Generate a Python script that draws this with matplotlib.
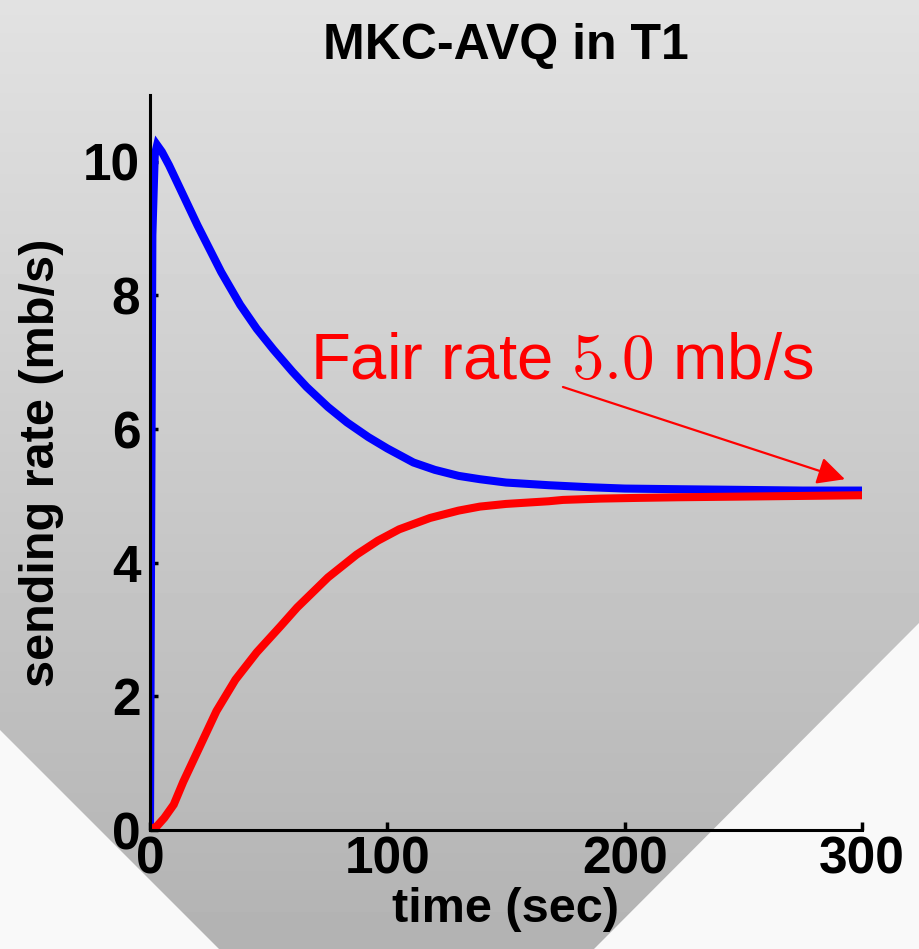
import numpy as np
import matplotlib
matplotlib.use("Agg")
import matplotlib.pyplot as plt
from matplotlib.patches import Polygon

plt.rcParams['font.family'] = ['Liberation Sans', 'DejaVu Sans']
plt.rcParams['mathtext.fontset'] = 'cm'

## Data
t_blue = [0, 0.5, 1, 2, 3, 5, 8, 12, 16, 20, 25, 30, 38, 45, 52, 60, 66, 75, 83, 92,
          100, 111, 120, 130, 139, 150, 168, 185, 200, 223, 250, 275, 300]
rate_blue = [0, 4.6, 8.9, 10.1, 10.25, 10.15, 9.95, 9.65, 9.35, 9.05, 8.7, 8.35, 7.86, 7.5, 7.19, 6.86,
             6.63, 6.33, 6.1, 5.88, 5.71, 5.5, 5.39, 5.3, 5.25, 5.2, 5.16, 5.13, 5.11, 5.1, 5.09, 5.08, 5.08]

t_red = [0, 3, 6, 10, 14, 21, 28, 36, 45, 55, 62, 75, 87, 96, 105, 118, 130, 139, 150, 168,
         174, 190, 205, 223, 250, 275, 300]
rate_red = [0, 0.06, 0.18, 0.38, 0.72, 1.25, 1.78, 2.25, 2.66, 3.05, 3.33, 3.78, 4.12, 4.33, 4.5, 4.67,
            4.78, 4.84, 4.88, 4.92, 4.94, 4.96, 4.97, 4.98, 4.99, 5.0, 5.01]

x_ticks = [0, 100, 200, 300]
y_ticks = [0, 2, 4, 6, 8, 10]

fig = plt.figure(figsize=(9.2, 9.49), dpi=100)

# gray gradient background with white corners
bg = fig.add_axes([0, 0, 1, 1], zorder=-10)
grad = np.linspace(0.885, 0.70, 256).reshape(-1, 1)
bg.imshow(grad, cmap='gray', vmin=0, vmax=1, aspect='auto', extent=[0, 920, 949, 0])
bg.add_patch(Polygon([[0, 730], [0, 949], [219, 949]], closed=True, color='#f9f9f9', lw=0))
bg.add_patch(Polygon([[920, 622], [920, 949], [594, 949]], closed=True, color='#f9f9f9', lw=0))
bg.set_xlim(0, 920)
bg.set_ylim(949, 0)
bg.axis('off')

ax = fig.add_axes([150 / 920, 1 - 830 / 949, 712 / 920, 735 / 949])
ax.set_facecolor('none')

ax.plot(t_blue, rate_blue, color='#0000ff', lw=5.8, solid_joinstyle='miter')
ax.plot(t_red, rate_red, color='#ff0000', lw=5.8, solid_joinstyle='miter')

ax.set_xlim(0, 300)
ax.set_ylim(0, 11)
ax.set_xticks(x_ticks)
ax.set_yticks(y_ticks)
for s in ['top', 'right']:
    ax.spines[s].set_visible(False)
for s in ['left', 'bottom']:
    ax.spines[s].set_linewidth(2.2)
ax.tick_params(direction='in', length=6, width=2.5, labelsize=37, pad=4)
ax.tick_params(axis='y', pad=7)
for lab in ax.get_xticklabels() + ax.get_yticklabels():
    lab.set_fontweight('bold')

ax.set_title('MKC-AVQ in T1', fontsize=36, fontweight='bold', pad=26)
ax.set_xlabel('time (sec)', fontsize=35, fontweight='bold', labelpad=2)
ax.set_ylabel('sending rate (mb/s)', fontsize=35, fontweight='bold', labelpad=14)

# annotation
ax.text(67.4, 6.75, r'Fair rate $5.0$ mb/s', color='red', fontsize=47, ha='left', va='baseline')
ax.annotate('', xy=(292.8, 5.25), xytext=(174, 6.63),
            arrowprops=dict(arrowstyle='-|>', color='red', lw=1.6, mutation_scale=42,
                            shrinkA=0, shrinkB=0))

fig.savefig('out.png', dpi=100)
